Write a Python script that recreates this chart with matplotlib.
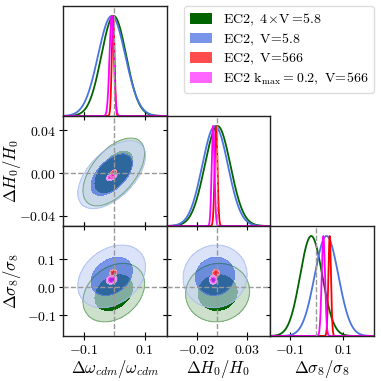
import numpy as np
import matplotlib
matplotlib.use("Agg")
import matplotlib.pyplot as plt
from matplotlib.patches import Patch

plt.rcParams['mathtext.fontset'] = 'cm'
plt.rcParams['font.family'] = 'serif'
plt.rcParams['font.serif'] = ['DejaVu Serif']

# series: EC2 4xV=5.8, EC2 V=5.8, EC2 V=566, EC2 kmax=0.2 V=566
labels = [r'$\mathrm{EC2,}\ 4\!\times\!\mathrm{V}=\!5.8$',
          r'$\mathrm{EC2,}\ \mathrm{V}\!=\!5.8$',
          r'$\mathrm{EC2,}\ \mathrm{V}\!=\!566$',
          r'$\mathrm{EC2}\ \mathrm{k_{max}}=0.2,\ \mathrm{V}\!=\!566$']
mu_wcdm = [-0.002, -0.009, -0.004, -0.009]
sig_wcdm = [0.041, 0.045, 0.0045, 0.007]
mu_h0 = [0.001, -0.0015, -0.0005, -0.0035]
sig_h0 = [0.0128, 0.0128, 0.0014, 0.0014]
mu_s8 = [-0.020, 0.038, 0.050, 0.026]
sig_s8 = [0.042, 0.045, 0.005, 0.0063]
rho_w_h = [0.55, 0.55, 0.5, 0.5]
rho_w_s = [0.3, 0.3, 0.2, 0.2]
rho_h_s = [0.05, 0.05, 0.0, 0.0]

line_col = ['darkgreen', '#4a74e0', 'red', 'magenta']
fill1 = [('#006400', 1.0), ('royalblue', 0.7), ('red', 0.7), ('magenta', 0.6)]
fill2 = [('#006400', 0.2), ('#c8d5f7', 0.65), ('#ffc8d0', 0.85), ('#f4c8f8', 0.85)]
edge2 = [('#006400', 0.4), ('#9fb4ee', 0.6), ('#f08898', 0.9), ('#e090ec', 0.9)]

names = [r'$\Delta\omega_{cdm}/\omega_{cdm}$', r'$\Delta H_0/H_0$', r'$\Delta\sigma_8/\sigma_8$']
lims = [(-0.17, 0.173), (-0.0497, 0.0535), (-0.175, 0.218)]
xticks = [[-0.1, 0.1], [-0.02, 0.03], [-0.1, 0.1]]
xtlabels = [[r'$-0.1$', r'$0.1$'], [r'$-0.02$', r'$0.03$'], [r'$-0.1$', r'$0.1$']]
yticks = [None, [-0.04, 0.0, 0.04], [-0.1, 0.0, 0.1]]
ytlabels = [None, [r'$-0.04$', r'$0.00$', r'$0.04$'], [r'$-0.1$', r'$0.0$', r'$0.1$']]

mus = [mu_wcdm, mu_h0, mu_s8]
sigs = [sig_wcdm, sig_h0, sig_s8]
rhos = {(0, 1): rho_w_h, (0, 2): rho_w_s, (1, 2): rho_h_s}

fig, axes = plt.subplots(3, 3, figsize=(3.81, 3.81), dpi=100)
fig.subplots_adjust(left=63/381, right=374/381, top=1-6/381, bottom=1-336/381,
                    wspace=0, hspace=0)

for i in range(3):
    for j in range(3):
        ax = axes[i, j]
        if j > i:
            ax.axis('off')
            continue
        for sp in ax.spines.values():
            sp.set_linewidth(1.0)
            sp.set_color('#222222')
        ax.set_xlim(lims[j])
        ax.set_xticks(xticks[j])
        if i == 2:
            ax.set_xticklabels(xtlabels[j], fontsize=10)
            ax.set_xlabel(names[j], fontsize=12, labelpad=1)
        else:
            ax.set_xticklabels([])
        if i == j:
            x = np.linspace(lims[j][0], lims[j][1], 600)
            for k in range(4):
                y = np.exp(-0.5 * ((x - mus[j][k]) / sigs[j][k]) ** 2)
                ax.plot(x, y, color=line_col[k], lw=1.3)
            ax.set_ylim(0, 1.1)
            ax.set_yticks([])
            ax.axvline(0, color='#999999', ls='--', lw=1, zorder=5)
            ax.tick_params(axis='x', direction='inout', length=6, width=0.8, pad=2)
        else:
            ax.set_ylim(lims[i])
            X, Y = np.meshgrid(np.linspace(lims[j][0], lims[j][1], 300),
                               np.linspace(lims[i][0], lims[i][1], 300))
            for k in range(4):
                dx = (X - mus[j][k]) / sigs[j][k]
                dy = (Y - mus[i][k]) / sigs[i][k]
                r = rhos[(j, i)][k]
                chi2 = (dx ** 2 - 2 * r * dx * dy + dy ** 2) / (1 - r ** 2)
                ax.contourf(X, Y, chi2, levels=[2.30, 6.18], colors=[fill2[k][0]],
                            alpha=fill2[k][1])
                ax.contourf(X, Y, chi2, levels=[0, 2.30], colors=[fill1[k][0]],
                            alpha=fill1[k][1])
                ax.contour(X, Y, chi2, levels=[6.18], colors=[edge2[k][0]],
                           alpha=edge2[k][1], linewidths=0.8)
            ax.axvline(0, color='#999999', ls='--', lw=1, zorder=5)
            ax.axhline(0, color='#999999', ls='--', lw=1, zorder=5)
            ax.set_yticks(yticks[i])
            if j == 0:
                ax.set_yticklabels(ytlabels[i], fontsize=10)
                ax.set_ylabel(names[i], fontsize=12)
                ax.yaxis.set_label_coords(-0.39, 0.5)
            else:
                ax.set_yticklabels([])
            ax.tick_params(direction='inout', length=6, width=0.8, pad=2,
                           top=True, right=True)

handles = [Patch(facecolor=fill1[k][0], alpha=fill1[k][1], edgecolor='none')
           for k in range(4)]
fig.legend(handles, labels, loc='upper right', bbox_to_anchor=(374/381, 1-6/381),
           borderaxespad=0, fontsize=10, handlelength=1.6, handleheight=0.8,
           labelspacing=0.25, handletextpad=0.8, borderpad=0.4, framealpha=1,
           edgecolor='#dddddd')

fig.savefig('out.png', dpi=100)
